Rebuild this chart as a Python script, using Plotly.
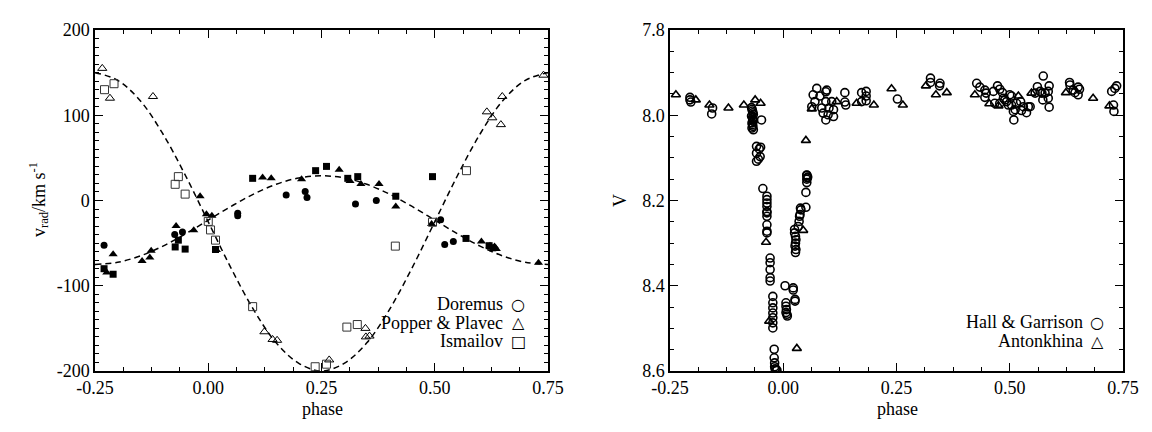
import plotly.graph_objects as go

# ---- radial velocity panel ----
phase_ticks = [-0.25, 0.0, 0.25, 0.5, 0.75]
phase_labels = ["-0.25", "0.00", "0.25", "0.50", "0.75"]
rv_ticks = [-200, -100, 0, 100, 200]
rv_labels = ["-200", "-100", "0", "100", "200"]
mag_ticks = [7.8, 8.0, 8.2, 8.4, 8.6]
mag_labels = ["7.8", "8.0", "8.2", "8.4", "8.6"]

# dashed orbit curves
curve_phase = [-0.25, -0.2, -0.15, -0.1, -0.05, 0.0, 0.05, 0.1, 0.15, 0.2, 0.25,
               0.3, 0.35, 0.4, 0.45, 0.5, 0.55, 0.6, 0.65, 0.7, 0.75]
curve_prim = [-75, -72.5, -65, -53.5, -39, -23, -7, 7.5, 19, 26.5, 29,
              26.5, 19, 7.5, -7, -23, -39, -53.5, -65, -72.5, -75]
curve_sec = [150, 141, 117, 78, 29, -25, -79, -128, -167, -191, -200,
             -191, -167, -128, -79, -25, 29, 78, 117, 141, 150]

dor_x = [-0.230, -0.074, -0.057, 0.065, 0.065, 0.172, 0.214, 0.218, 0.325, 0.371, 0.513, 0.522, 0.541]
dor_y = [-52.5, -40, -37, -15, -18, 6.5, 10.5, 3.5, -4, 0, -22.5, -51.5, -48]

pp_prim_x = [-0.224, -0.210, -0.146, -0.129, -0.126, -0.071, -0.032, -0.018, -0.004, 0.008, 0.018,
             0.120, 0.139, 0.206, 0.289, 0.313, 0.337, 0.377, 0.414, 0.493, 0.603, 0.622,
             0.632, 0.636, 0.729]
pp_prim_y = [-84.5, -63, -71, -67, -59, -30, -35, 5, -16, -18, -58,
             27, 26, 25, 36, 23, 19.5, 19.5, -7, -27.5, -48, -53,
             -54, -57, -73]
pp_sec_x = [-0.234, -0.217, -0.122, 0.124, 0.142, 0.152, 0.267, 0.347, 0.348, 0.356,
            0.615, 0.627, 0.649, 0.646, 0.740]
pp_sec_y = [155, 120, 122, -154, -163, -164, -187, -150, -160, -159,
            104, 97, 122, 89, 147]

ism_prim_x = [-0.230, -0.210, -0.066, -0.073, -0.051, 0.016, 0.098, 0.237, 0.261, 0.308,
              0.330, 0.414, 0.495, 0.569, 0.620, 0.628]
ism_prim_y = [-80, -86.5, -46.5, -54.5, -57, -57.5, 26, 35, 40, 26,
              28, 5, 28, -44.5, -53, -55.5]
ism_sec_x = [-0.229, -0.208, -0.066, -0.073, -0.051, 0.0, 0.005, 0.016, 0.098, 0.236,
             0.261, 0.306, 0.329, 0.413, 0.495, 0.570]
ism_sec_y = [130, 137, 28, 19, 7.5, -24.5, -34.5, -46.5, -124.5, -195,
             -192, -148.5, -145.5, -53.5, -25.5, 35]

# ---- light curve panel ----
hg_x = [-0.206, -0.204, -0.206, -0.156, -0.158,
        -0.070, -0.069, -0.068, -0.067, -0.066, -0.070, -0.068, -0.067, -0.066, -0.069,
        -0.068, -0.067, -0.069, -0.066,
        -0.048, -0.059, -0.059, -0.059, -0.050, -0.053, -0.051, -0.055,
        -0.045, -0.036, -0.036, -0.036, -0.036, -0.036, -0.036, -0.036, -0.036, -0.036, -0.036,
        -0.029, -0.029, -0.029, -0.029, -0.029,
        -0.023, -0.023, -0.023, -0.023, -0.023, -0.023, -0.023,
        -0.020, -0.020, -0.019, -0.019, -0.018, -0.016, -0.014,
        0.004, 0.006, 0.006, 0.007, 0.008, 0.009, 0.006,
        0.022, 0.022, 0.026, 0.026,
        0.025, 0.025, 0.027, 0.028, 0.027, 0.026, 0.028, 0.027,
        0.033, 0.035, 0.036, 0.037, 0.039, 0.038,
        0.050, 0.050, 0.052, 0.053, 0.052, 0.054, 0.052, 0.052,
        0.074, 0.096, 0.094, 0.066, 0.081, 0.070, 0.094, 0.107, 0.063, 0.085, 0.101,
        0.111, 0.088, 0.099, 0.111, 0.094,
        0.136, 0.136, 0.138, 0.173, 0.183, 0.183, 0.173, 0.183, 0.252,
        0.325, 0.325, 0.346, 0.345,
        0.427, 0.434, 0.445, 0.448, 0.445, 0.464, 0.473, 0.478, 0.484, 0.467, 0.486, 0.478,
        0.504, 0.493, 0.504, 0.515, 0.524, 0.530, 0.508, 0.526, 0.537, 0.509, 0.541,
        0.500, 0.489, 0.497, 0.512, 0.545,
        0.556, 0.561, 0.567, 0.574, 0.578, 0.585, 0.587, 0.585, 0.587, 0.573, 0.571,
        0.632, 0.633, 0.640, 0.651, 0.654, 0.651, 0.644,
        0.725, 0.732, 0.736, 0.729, 0.730]
hg_y = [7.958, 7.969, 7.964, 7.983, 7.997,
        7.982, 7.986, 7.990, 7.994, 7.998, 8.002, 8.006, 8.010, 8.014, 8.018,
        8.022, 8.026, 8.030, 8.034,
        8.011, 8.073, 8.089, 8.108, 8.075, 8.079, 8.097, 8.103,
        8.172, 8.190, 8.198, 8.206, 8.214, 8.226, 8.229, 8.237, 8.257, 8.272, 8.276,
        8.335, 8.346, 8.362, 8.381, 8.389,
        8.425, 8.440, 8.452, 8.464, 8.475, 8.487, 8.499,
        8.549, 8.569, 8.581, 8.590, 8.595, 8.598, 8.598,
        8.400, 8.440, 8.448, 8.456, 8.467, 8.471, 8.463,
        8.405, 8.410, 8.432, 8.436,
        8.268, 8.276, 8.284, 8.292, 8.300, 8.307, 8.315, 8.322,
        8.261, 8.249, 8.237, 8.233, 8.222, 8.218,
        8.181, 8.216, 8.140, 8.147, 8.158, 8.145, 8.141, 8.150,
        7.937, 7.941, 7.945, 7.952, 7.955, 7.968, 7.968, 7.968, 7.980, 7.983, 7.983,
        7.987, 7.995, 7.999, 8.003, 8.011,
        7.947, 7.969, 7.976, 7.947, 7.944, 7.955, 7.968, 7.966, 7.962,
        7.913, 7.923, 7.925, 7.931,
        7.925, 7.934, 7.941, 7.948, 7.958, 7.944, 7.931, 7.939, 7.947, 7.972, 7.960, 7.972,
        7.955, 7.968, 7.976, 7.972, 7.968, 7.980, 7.991, 7.989, 7.994, 8.011, 7.980,
        7.952, 7.964, 7.976, 7.987, 7.980,
        7.948, 7.933, 7.944, 7.908, 7.948, 7.944, 7.931, 7.960, 7.981, 7.964, 7.948,
        7.923, 7.929, 7.941, 7.934, 7.939, 7.952, 7.947,
        7.944, 7.937, 7.931, 7.976, 7.991]

ant_x = [-0.237, -0.193, -0.163, -0.121, -0.087, -0.062, -0.050, -0.038, -0.031, 0.030,
         0.044, 0.050, 0.063, 0.118, 0.162, 0.200, 0.239, 0.264, 0.315, 0.337, 0.361,
         0.423, 0.455, 0.475, 0.519, 0.548, 0.624, 0.684, 0.720]
ant_y = [7.952, 7.964, 7.976, 7.983, 7.976, 7.964, 7.972, 8.298, 8.483, 8.547,
         8.270, 8.059, 7.985, 7.968, 7.972, 7.976, 7.938, 7.976, 7.931, 7.952, 7.947,
         7.952, 7.973, 7.978, 7.955, 7.948, 7.947, 7.960, 7.978]

FONT = "Liberation Serif"

# page has an 8px body margin, so the figure is a bit smaller than the window
W, H = 1136, 416


def fx(px):
    return (px - 8) / W


def fy(py):
    return 1 - (py - 8) / H


fig = go.Figure()

# left panel
fig.add_trace(go.Scatter(x=curve_phase, y=curve_prim, mode='lines', line_shape='spline',
                         line=dict(color='black', width=1.5, dash='6px,4px')))
fig.add_trace(go.Scatter(x=curve_phase, y=curve_sec, mode='lines', line_shape='spline',
                         line=dict(color='black', width=1.5, dash='6px,4px')))
fig.add_trace(go.Scatter(x=dor_x, y=dor_y, mode='markers',
                         marker=dict(symbol='circle', size=7, color='black')))
fig.add_trace(go.Scatter(x=pp_prim_x, y=pp_prim_y, mode='markers',
                         marker=dict(symbol='triangle-up', size=8, color='black')))
fig.add_trace(go.Scatter(x=pp_sec_x, y=pp_sec_y, mode='markers',
                         marker=dict(symbol='triangle-up-open', size=8, color='black',
                                     line=dict(width=1))))
fig.add_trace(go.Scatter(x=ism_prim_x, y=ism_prim_y, mode='markers',
                         marker=dict(symbol='square', size=7, color='black')))
fig.add_trace(go.Scatter(x=ism_sec_x, y=ism_sec_y, mode='markers',
                         marker=dict(symbol='square-open', size=8, color='#333333',
                                     line=dict(width=1))))

# right panel
fig.add_trace(go.Scatter(x=hg_x, y=hg_y, mode='markers', xaxis='x2', yaxis='y2',
                         marker=dict(symbol='circle-open', size=8, color='black',
                                     line=dict(width=1.6))))
fig.add_trace(go.Scatter(x=ant_x, y=ant_y, mode='markers', xaxis='x2', yaxis='y2',
                         marker=dict(symbol='triangle-up-open', size=8, color='black',
                                     line=dict(width=1.6))))

axis_style = dict(showline=True, linecolor='black', linewidth=1.5, mirror='ticks',
                  ticks='inside', ticklen=8, tickwidth=1.2, tickcolor='black',
                  showgrid=False, zeroline=False, automargin=False,
                  tickfont=dict(family=FONT, size=18, color='black'))

xstyle = dict(axis_style, range=[-0.25, 0.75], tickvals=phase_ticks, ticktext=phase_labels,
              minor=dict(ticks='inside', ticklen=4, tickwidth=1.2, tickcolor='black',
                         tick0=-0.25, dtick=0.0625))

ydom = [fy(371), fy(30)]

fig.update_layout(
    width=W, height=H,
    margin=dict(l=0, r=0, t=0, b=0),
    paper_bgcolor='white', plot_bgcolor='white',
    showlegend=False,
    xaxis=dict(xstyle, domain=[fx(95), fx(548)], anchor='y'),
    yaxis=dict(axis_style, domain=ydom, anchor='x', range=[-200, 200],
               tickvals=rv_ticks, ticktext=rv_labels,
               minor=dict(ticks='inside', ticklen=4, tickwidth=1.2, tickcolor='black',
                          tick0=-200, dtick=10)),
    xaxis2=dict(xstyle, domain=[fx(670), fx(1123)], anchor='y2'),
    yaxis2=dict(axis_style, domain=ydom, anchor='x2', range=[8.6, 7.8],
                tickvals=mag_ticks, ticktext=mag_labels,
                minor=dict(ticks='inside', ticklen=4, tickwidth=1.2, tickcolor='black',
                           tick0=7.8, dtick=0.05)),
)

title_font = dict(family=FONT, size=18, color='black')
sym_font = dict(family="DejaVu Sans", size=16, color='black')


def note(text, px, py, xanchor='center', font=title_font, angle=0):
    return dict(text=text, x=fx(px), y=fy(py), xref='paper', yref='paper',
                xanchor=xanchor, yanchor='middle', showarrow=False,
                textangle=angle, font=font)


annotations = [
    note("phase", 322, 409),
    note("phase", 897, 409),
    note("v<sub>rad</sub>/km s<sup>-1</sup>", 38, 200, angle=-90),
    note("V", 620, 200, angle=-90),
]

legend_left = [("Doremus", "○"), ("Popper &amp; Plavec", "△"), ("Ismailov", "□")]
legend_right = [("Hall &amp; Garrison", "○"), ("Antonkhina", "△")]

for i, (name, sym) in enumerate(legend_left):
    yy = 304 + 18.5 * i
    annotations.append(note(name, 505, yy, xanchor='right'))
    annotations.append(note(sym, 518, yy, font=sym_font))
for i, (name, sym) in enumerate(legend_right):
    yy = 322 + 19 * i
    annotations.append(note(name, 1085, yy, xanchor='right'))
    annotations.append(note(sym, 1097, yy, font=sym_font))

fig.update_layout(annotations=annotations)

fig.write_html("out.html")
